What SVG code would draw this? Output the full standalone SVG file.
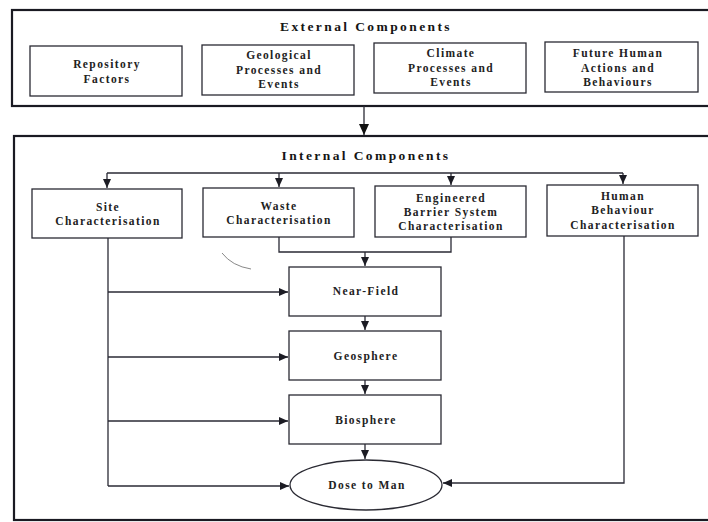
<svg xmlns="http://www.w3.org/2000/svg" width="708" height="522" viewBox="0 0 708 522">
  <defs>
    <marker id="arr" markerWidth="10" markerHeight="10" refX="9" refY="5" orient="auto" markerUnits="userSpaceOnUse">
      <path d="M0,1 L9,5 L0,9 Z" fill="#1c1c24"/>
    </marker>
    <marker id="arrBig" markerWidth="12" markerHeight="12" refX="11" refY="6" orient="auto" markerUnits="userSpaceOnUse">
      <path d="M0,1 L11,6 L0,11 Z" fill="#111"/>
    </marker>
  </defs>
  <style>
    .frame { fill: none; stroke: #1a1a22; stroke-width: 2.2; }
    .box { fill: #fff; stroke: #2a2a33; stroke-width: 1.3; }
    .label { font-family: "Liberation Serif", "Times New Roman", serif; font-weight: bold; font-size: 11.5px; letter-spacing: 1.4px; fill: #222; text-anchor: middle; }
    .title { font-family: "Liberation Serif", "Times New Roman", serif; font-weight: bold; font-size: 13.5px; letter-spacing: 2.4px; fill: #151515; text-anchor: middle; }
    .conn { fill: none; stroke: #2a2a35; stroke-width: 1.3; }
    .mark { fill: none; stroke: #888; stroke-width: 1; }
  </style>
  <rect width="708" height="522" fill="#fff"/>

  <!-- External components frame -->
  <g id="external">
    <rect class="frame" x="12" y="10" width="712" height="96"/>
    <text class="title" x="366" y="31">External Components</text>
  </g>
  <g id="repository">
    <rect class="box" x="30" y="46" width="152" height="50"/>
    <text class="label" x="107" y="68">Repository</text>
    <text class="label" x="107" y="83">Factors</text>
  </g>
  <g id="geological">
    <rect class="box" x="202" y="45" width="152" height="50"/>
    <text class="label" x="279" y="59">Geological</text>
    <text class="label" x="279" y="74">Processes and</text>
    <text class="label" x="279" y="88">Events</text>
  </g>
  <g id="climate">
    <rect class="box" x="374" y="43" width="152" height="50"/>
    <text class="label" x="451" y="57">Climate</text>
    <text class="label" x="451" y="72">Processes and</text>
    <text class="label" x="451" y="86">Events</text>
  </g>
  <g id="future-human">
    <rect class="box" x="545" y="42" width="153" height="50"/>
    <text class="label" x="618" y="57">Future Human</text>
    <text class="label" x="618" y="72">Actions and</text>
    <text class="label" x="618" y="86">Behaviours</text>
  </g>

  <!-- Internal components frame -->
  <g id="internal">
    <rect class="frame" x="14" y="136" width="712" height="384"/>
    <text class="title" x="366" y="160">Internal Components</text>
  </g>
  <g id="site">
    <rect class="box" x="32" y="189" width="150" height="49"/>
    <text class="label" x="108" y="211">Site</text>
    <text class="label" x="108" y="225">Characterisation</text>
  </g>
  <g id="waste">
    <rect class="box" x="203" y="188" width="151" height="49"/>
    <text class="label" x="279" y="210">Waste</text>
    <text class="label" x="279" y="224">Characterisation</text>
  </g>
  <g id="ebs">
    <rect class="box" x="375" y="186" width="151" height="51"/>
    <text class="label" x="451" y="202">Engineered</text>
    <text class="label" x="451" y="216">Barrier System</text>
    <text class="label" x="451" y="230">Characterisation</text>
  </g>
  <g id="human-behaviour">
    <rect class="box" x="547" y="185" width="151" height="51"/>
    <text class="label" x="623" y="200">Human</text>
    <text class="label" x="623" y="214">Behaviour</text>
    <text class="label" x="623" y="229">Characterisation</text>
  </g>
  <g id="near-field">
    <rect class="box" x="289" y="267" width="152" height="49"/>
    <text class="label" x="366" y="295">Near-Field</text>
  </g>
  <g id="geosphere">
    <rect class="box" x="289" y="331" width="152" height="49"/>
    <text class="label" x="366" y="360">Geosphere</text>
  </g>
  <g id="biosphere">
    <rect class="box" x="289" y="395" width="152" height="49"/>
    <text class="label" x="366" y="424">Biosphere</text>
  </g>
  <g id="dose">
    <ellipse class="box" cx="366" cy="485" rx="76" ry="25"/>
    <text class="label" x="367" y="489">Dose to Man</text>
  </g>

  <!-- Connectors -->
  <g id="connectors">
    <line class="conn" x1="364" y1="106" x2="364" y2="135" marker-end="url(#arrBig)" stroke-width="1.8"/>
    <!-- distribution bus -->
    <line class="conn" x1="107" y1="173" x2="623" y2="173"/>
    <line class="conn" x1="107" y1="173" x2="107" y2="188" marker-end="url(#arr)"/>
    <line class="conn" x1="279" y1="173" x2="279" y2="187" marker-end="url(#arr)"/>
    <line class="conn" x1="451" y1="173" x2="451" y2="185" marker-end="url(#arr)"/>
    <line class="conn" x1="623" y1="173" x2="623" y2="184" marker-end="url(#arr)"/>
    <!-- waste + EBS merge into near-field -->
    <path class="conn" d="M279,237 V252 H451 V237"/>
    <line class="conn" x1="365" y1="252" x2="365" y2="266" marker-end="url(#arr)"/>
    <!-- chain -->
    <line class="conn" x1="365" y1="316" x2="365" y2="330" marker-end="url(#arr)"/>
    <line class="conn" x1="365" y1="380" x2="365" y2="394" marker-end="url(#arr)"/>
    <line class="conn" x1="365" y1="444" x2="365" y2="459" marker-end="url(#arr)"/>
    <!-- site characterisation feeds -->
    <path class="conn" d="M108,238 V486"/>
    <line class="conn" x1="108" y1="292" x2="288" y2="292" marker-end="url(#arr)"/>
    <line class="conn" x1="108" y1="357" x2="288" y2="357" marker-end="url(#arr)"/>
    <line class="conn" x1="108" y1="421" x2="288" y2="421" marker-end="url(#arr)"/>
    <line class="conn" x1="108" y1="486" x2="289" y2="486" marker-end="url(#arr)"/>
    <!-- human behaviour to dose -->
    <path class="conn" d="M624,236 V483 H443" marker-end="url(#arr)"/>
    <!-- small pencil stroke -->
    <path class="mark" d="M222,253 Q232,266 251,269"/>
  </g>
</svg>
